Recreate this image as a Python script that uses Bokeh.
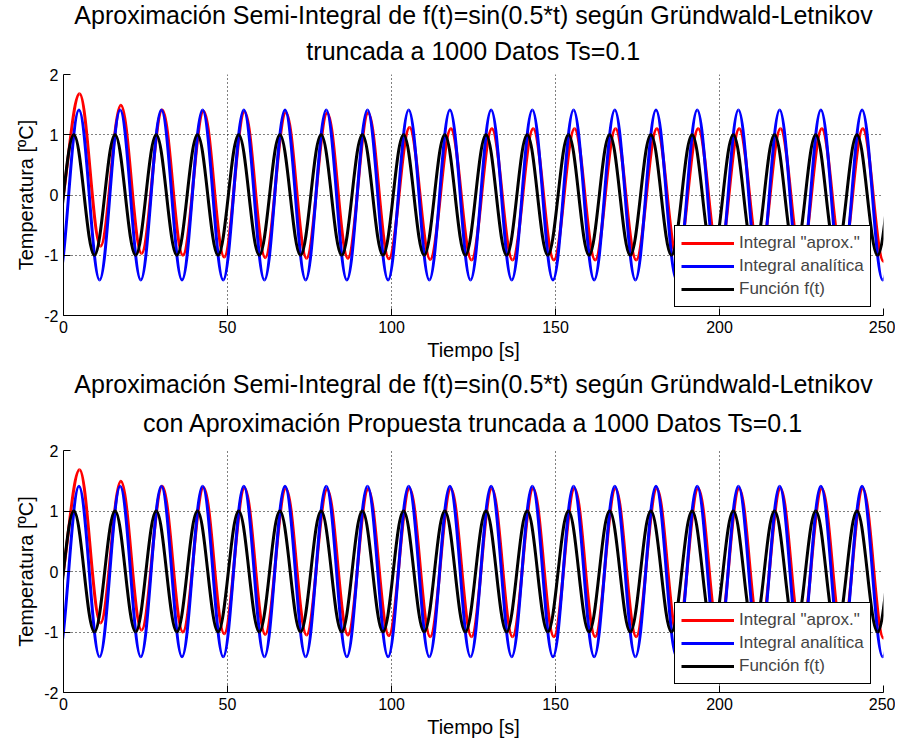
import numpy as np
from bokeh.plotting import figure
from bokeh.models import Range1d, FixedTicker, Title, Legend, LegendItem, ColumnDataSource
from bokeh.layouts import column
from bokeh.embed import file_html
from bokeh.resources import INLINE

FONT = "Liberation Sans"

# ---- data: successive extrema (time [s], value) ----
x_ticks = [0, 50, 100, 150, 200, 250]
y_ticks = [-2, -1, 0, 1, 2]

black_t = [-3.14, 3.14, 9.42, 15.71, 21.99, 28.27, 34.56, 40.84, 47.12, 53.41, 59.69,
           65.97, 72.26, 78.54, 84.82, 91.11, 97.39, 103.67, 109.96, 116.24, 122.52,
           128.81, 135.09, 141.37, 147.65, 153.94, 160.22, 166.50, 172.79, 179.07,
           185.35, 191.64, 197.92, 204.20, 210.49, 216.77, 223.05, 229.34, 235.62,
           241.90, 248.19, 254.47]
black_v = [-1, 1, -1, 1, -1, 1, -1, 1, -1, 1, -1, 1, -1, 1, -1, 1, -1, 1, -1, 1, -1,
           1, -1, 1, -1, 1, -1, 1, -1, 1, -1, 1, -1, 1, -1, 1, -1, 1, -1, 1, -1, 1]

blue_t = [-1.57, 4.71, 11.00, 17.28, 23.56, 29.85, 36.13, 42.41, 48.69, 54.98, 61.26,
          67.54, 73.83, 80.11, 86.39, 92.68, 98.96, 105.24, 111.53, 117.81, 124.09,
          130.38, 136.66, 142.94, 149.23, 155.51, 161.79, 168.08, 174.36, 180.64,
          186.92, 193.21, 199.49, 205.77, 212.06, 218.34, 224.62, 230.91, 237.19,
          243.47, 249.76, 256.04]
blue_v = [-1.41, 1.41, -1.41, 1.41, -1.41, 1.41, -1.41, 1.41, -1.41, 1.41, -1.41,
          1.41, -1.41, 1.41, -1.41, 1.41, -1.41, 1.41, -1.41, 1.41, -1.41, 1.41,
          -1.41, 1.41, -1.41, 1.41, -1.41, 1.41, -1.41, 1.41, -1.41, 1.41, -1.41,
          1.41, -1.41, 1.41, -1.41, 1.41, -1.41, 1.41, -1.41, 1.41]

red_t = [-1.9, 4.9, 11.3, 17.5, 23.8, 30.1, 36.4, 42.7, 49.0, 55.2, 61.5, 67.8, 74.1,
         80.4, 86.7, 92.9, 99.2, 105.5, 111.8, 118.1, 124.4, 130.6, 136.9, 143.2,
         149.5, 155.8, 162.1, 168.3, 174.6, 180.9, 187.2, 193.5, 199.8, 206.0, 212.3,
         218.6, 224.9, 231.2, 237.5, 243.7, 250.0, 256.3]
red_top_v = [-0.35, 1.68, -0.85, 1.49, -0.97, 1.41, -1.00, 1.39, -1.03, 1.38, -1.04,
             1.37, -1.05, 1.36, -1.05, 1.36, -1.06, 1.12, -1.07, 1.10, -1.08, 1.10,
             -1.08, 1.10, -1.08, 1.10, -1.08, 1.10, -1.08, 1.10, -1.08, 1.10, -1.08,
             1.10, -1.08, 1.10, -1.08, 1.10, -1.08, 1.10, -1.10, 1.10]
red_bot_v = [-0.35, 1.68, -0.85, 1.49, -0.97, 1.41, -1.00, 1.39, -1.03, 1.38, -1.04,
             1.37, -1.05, 1.36, -1.05, 1.36, -1.06, 1.37, -1.08, 1.37, -1.08, 1.37,
             -1.08, 1.37, -1.08, 1.37, -1.08, 1.37, -1.08, 1.37, -1.08, 1.37, -1.08,
             1.37, -1.08, 1.37, -1.08, 1.37, -1.08, 1.37, -1.10, 1.37]

title_top = ["Aproximación Semi-Integral de f(t)=sin(0.5*t) según Gründwald-Letnikov",
             "truncada a 1000 Datos Ts=0.1"]
title_bot = ["Aproximación Semi-Integral de f(t)=sin(0.5*t) según Gründwald-Letnikov",
             "con Aproximación Propuesta truncada a 1000 Datos Ts=0.1"]
legend_labels = ['Integral "aprox."', "Integral analítica", "Función f(t)"]

K = 0.3634  # cubic-Bezier shape constant for a half cosine wave


def seg_source(t, v):
    t = np.asarray(t, float)
    v = np.asarray(v, float)
    x0, x1, y0, y1 = t[:-1], t[1:], v[:-1], v[1:]
    d = x1 - x0
    return ColumnDataSource(dict(x0=x0, y0=y0, x1=x1, y1=y1,
                                 cx0=x0 + K * d, cy0=y0, cx1=x1 - K * d, cy1=y1))


def make(titles, red_v, height, btop, bbot, gap2, gap1):
    p = figure(width=895, height=height, output_backend="svg", toolbar_location=None,
               x_range=Range1d(0, 250), y_range=Range1d(-2, 2), title=None,
               min_border_left=63, min_border_right=12,
               min_border_top=btop, min_border_bottom=bbot)
    p.background_fill_color = "white"
    p.border_fill_color = "white"
    p.outline_line_color = None

    p.add_layout(Title(text=titles[1], align="center", text_font=FONT,
                       text_font_size="25px", text_font_style="normal",
                       standoff=gap2, text_color="black"), "above")
    p.add_layout(Title(text=titles[0], align="center", text_font=FONT,
                       text_font_size="25px", text_font_style="normal",
                       standoff=gap1, text_color="black"), "above")

    for ax in (p.xaxis[0], p.yaxis[0]):
        ax.axis_line_color = "black"
        ax.major_tick_line_color = "black"
        ax.major_tick_in = 7
        ax.major_tick_out = 0
        ax.minor_tick_line_color = None
        ax.major_label_text_font = FONT
        ax.major_label_text_font_size = "16px"
        ax.major_label_text_color = "black"
        ax.axis_label_text_font = FONT
        ax.axis_label_text_font_size = "20px"
        ax.axis_label_text_font_style = "normal"
        ax.axis_label_text_color = "black"
        ax.major_label_standoff = 5
    p.xaxis.ticker = FixedTicker(ticks=x_ticks)
    p.yaxis.ticker = FixedTicker(ticks=y_ticks)
    p.yaxis.major_label_overrides = {t: str(t) for t in y_ticks}
    p.xaxis.axis_label = "Tiempo [s]"
    p.yaxis.axis_label = "Temperatura [ºC]"
    p.xaxis.axis_label_standoff = 3
    p.yaxis.axis_label_standoff = 4

    for g in (p.xgrid[0], p.ygrid[0]):
        g.grid_line_color = "black"
        g.grid_line_dash = "1 3"
        g.grid_line_width = 1

    cols = ["#ff0000", "#0000ff", "#000000"]
    for (t, v), c in zip([(red_t, red_v), (blue_t, blue_v), (black_t, black_v)], cols):
        p.bezier(x0="x0", y0="y0", x1="x1", y1="y1", cx0="cx0", cy0="cy0",
                 cx1="cx1", cy1="cy1", source=seg_source(t, v),
                 line_color=c, line_width=3)

    # legend-only renderers (one NaN sample, nothing drawn in the plot)
    dummies = [p.line(x=[np.nan], y=[np.nan], line_color=c, line_width=3) for c in cols]
    leg = Legend(items=[LegendItem(label=l, renderers=[r]) for l, r in zip(legend_labels, dummies)],
                 location=(611, 8), margin=0, padding=6, spacing=1,
                 glyph_width=53, glyph_height=22, label_height=22, label_standoff=5,
                 label_text_font=FONT, label_text_font_size="17px",
                 border_line_color="black", border_line_width=1, border_line_alpha=1,
                 background_fill_color="white", background_fill_alpha=1)
    p.add_layout(leg)
    return p


p1 = make(title_top, red_top_v, 367, 74, 52, 20, -8)
p2 = make(title_bot, red_bot_v, 374, 83, 49, 27, -8)
layout = column(p1, p2, spacing=0)

open("out.html", "w").write(file_html(layout, INLINE))
